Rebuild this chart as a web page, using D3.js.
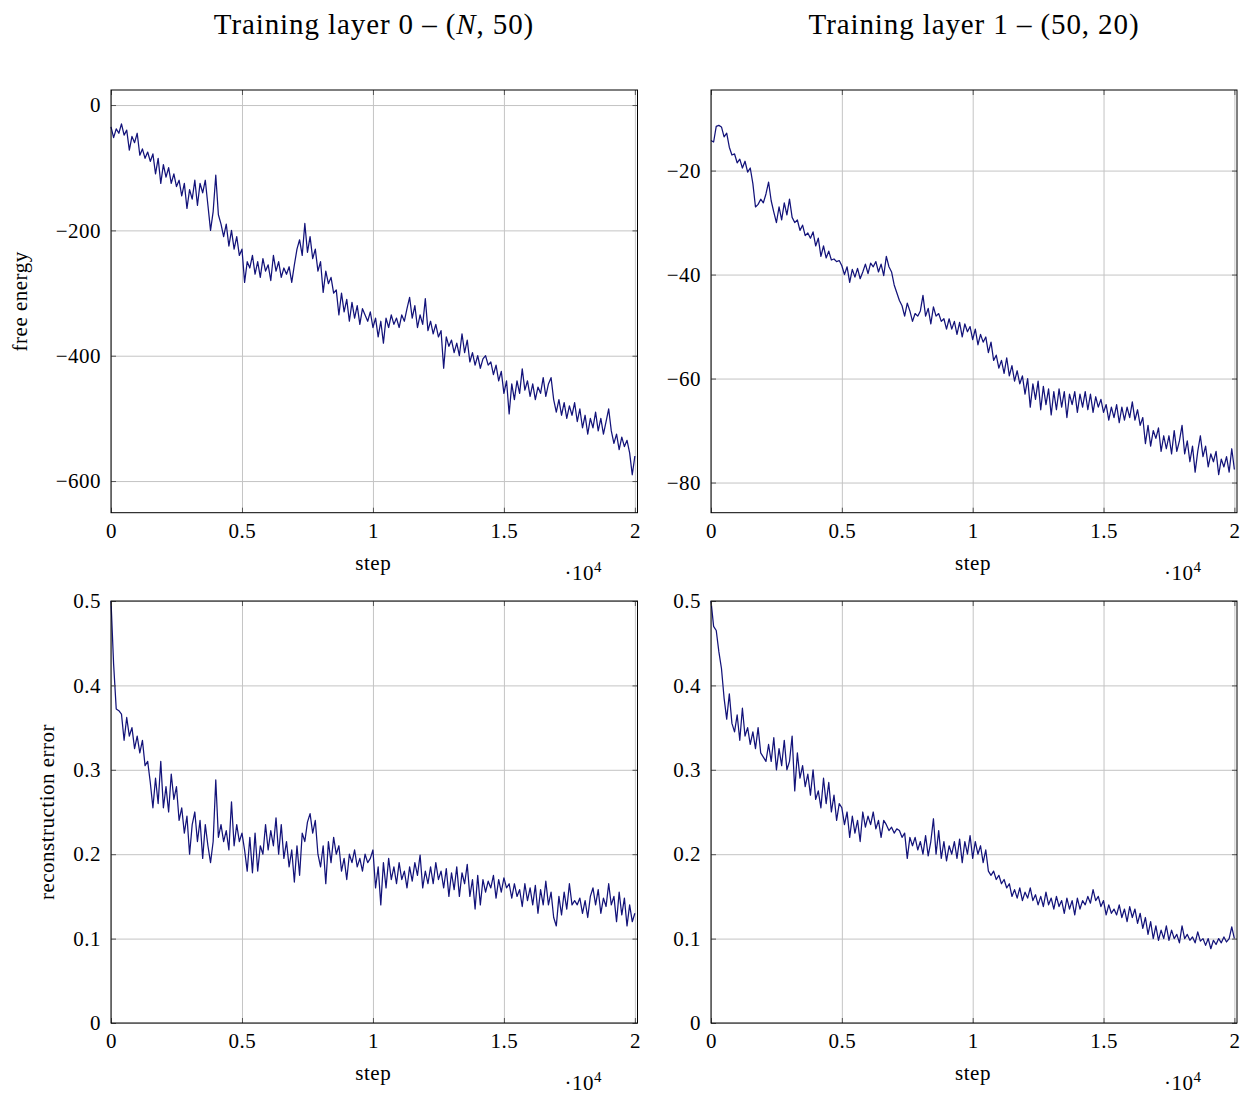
<!DOCTYPE html>
<html><head><meta charset="utf-8">
<script src="https://cdn.jsdelivr.net/npm/d3@7"></script>
<style>
body{margin:0;background:#fff}
svg{display:block}
text{font-family:"Liberation Serif","DejaVu Serif",serif;fill:#000}
</style>
</head><body>
<svg id="c" width="1245" height="1095"></svg>
<script>
// ---------------- data ----------------
const steps = d3.range(0, 20001, 100);

const freeEnergy0 = [
-35,-52,-38,-45,-30,-48,-40,-72,-50,-60,-45,-80,-70,-85,-75,-90,-78,-110,-85,-125,
-95,-115,-100,-125,-110,-130,-120,-145,-125,-165,-135,-150,-120,-160,-125,-140,-120,-160,-200,-170,
-112,-175,-190,-210,-190,-225,-200,-230,-210,-240,-230,-283,-250,-260,-240,-270,-250,-275,-245,-265,
-255,-280,-240,-265,-250,-275,-260,-270,-258,-283,-255,-230,-215,-240,-189,-235,-210,-245,-230,-265,
-250,-299,-265,-285,-275,-300,-295,-335,-300,-330,-310,-345,-315,-340,-320,-350,-325,-335,-345,-330,
-355,-340,-370,-345,-380,-340,-355,-335,-350,-340,-355,-335,-345,-325,-307,-340,-320,-355,-335,-350,
-309,-360,-345,-365,-350,-370,-360,-420,-370,-385,-375,-395,-380,-400,-365,-395,-375,-410,-395,-415,
-400,-420,-405,-400,-415,-410,-430,-415,-440,-425,-460,-440,-493,-445,-470,-440,-460,-421,-455,-440,
-465,-445,-470,-450,-460,-435,-465,-445,-435,-470,-490,-470,-495,-475,-500,-480,-495,-475,-505,-485,
-515,-495,-525,-500,-515,-490,-520,-500,-525,-505,-485,-520,-540,-525,-550,-530,-545,-535,-555,-590,
-560];

const freeEnergy1 = [
-14.2,-14.5,-11.5,-11.3,-11.6,-13.5,-12.8,-15.5,-17,-16.8,-18.5,-17.8,-19.5,-18.2,-20.3,-19.5,-22.5,-27,-26.5,-25.5,
-26.2,-24.5,-22.2,-25.8,-28,-30,-27,-29.5,-26.2,-28.5,-25.5,-29,-30,-29.5,-31.5,-30.5,-32.5,-32,-33,-31.8,
-34.5,-33,-36.5,-34.5,-36.8,-35.5,-37.2,-37,-37.5,-37.3,-38.3,-40,-38.5,-41.5,-39,-40.5,-38.8,-40.8,-39.5,-38,
-39.8,-37.8,-38.5,-37.5,-39.5,-38,-40.2,-36.5,-38.5,-39.5,-42,-43.5,-45,-46,-48,-45.5,-47,-49,-47.5,-48,
-47,-44,-48,-46.5,-49.5,-46.2,-48,-47.5,-49,-48.5,-50.5,-48.5,-50.5,-49,-51.5,-49.2,-52,-49.5,-51,-50,
-52.5,-50.5,-53.5,-51.5,-53,-52,-55,-53,-56.5,-55.5,-58,-56.5,-59,-56,-59.5,-57.5,-60.5,-58.5,-61,-59.5,
-63,-60,-65.5,-61,-64,-60.5,-66,-61.5,-65,-62,-67,-62.5,-66,-62,-65.5,-62.5,-67.5,-63,-65,-62.5,
-66.5,-63,-65.5,-62.5,-66,-63,-66.5,-63.5,-65.5,-64,-66.5,-65,-68,-65.5,-67.5,-65,-68.5,-65.5,-68,-65.5,
-67.5,-64.5,-68,-66,-69,-67.5,-72.5,-69,-73,-70,-71.5,-69.5,-74,-71,-73.5,-71,-74.5,-70,-74,-72,
-69,-74.5,-72,-76,-73,-78,-74,-71,-75,-73,-77,-74.5,-76,-74,-78.5,-75.5,-77,-75,-78,-73.5,
-77.5];

const reconError0 = [
0.5,0.425,0.372,0.37,0.366,0.335,0.362,0.34,0.35,0.325,0.34,0.32,0.335,0.305,0.31,0.285,0.255,0.29,0.26,0.31,
0.255,0.28,0.25,0.295,0.265,0.28,0.24,0.255,0.225,0.245,0.2,0.235,0.25,0.215,0.24,0.195,0.235,0.21,0.19,0.215,
0.288,0.22,0.235,0.215,0.228,0.205,0.262,0.21,0.235,0.215,0.225,0.205,0.18,0.22,0.178,0.225,0.18,0.21,0.2,0.235,
0.205,0.228,0.21,0.243,0.2,0.235,0.195,0.215,0.185,0.205,0.167,0.21,0.175,0.225,0.215,0.238,0.248,0.225,0.24,0.2,
0.185,0.21,0.165,0.215,0.19,0.22,0.2,0.21,0.18,0.195,0.17,0.2,0.19,0.205,0.185,0.195,0.18,0.2,0.19,0.195,
0.205,0.16,0.185,0.14,0.19,0.16,0.195,0.17,0.185,0.165,0.19,0.17,0.18,0.16,0.185,0.168,0.19,0.175,0.199,0.16,
0.18,0.165,0.185,0.165,0.19,0.17,0.18,0.16,0.183,0.15,0.178,0.158,0.185,0.15,0.178,0.165,0.188,0.15,0.17,0.135,
0.175,0.14,0.17,0.155,0.168,0.16,0.175,0.148,0.17,0.155,0.172,0.16,0.165,0.148,0.165,0.15,0.158,0.138,0.165,0.145,
0.16,0.14,0.163,0.13,0.158,0.14,0.168,0.14,0.155,0.125,0.115,0.15,0.128,0.155,0.135,0.165,0.14,0.145,0.14,0.148,
0.13,0.145,0.125,0.15,0.16,0.14,0.158,0.13,0.148,0.138,0.165,0.14,0.15,0.12,0.155,0.128,0.148,0.115,0.14,0.12,
0.13];

const reconError1 = [
0.5,0.47,0.465,0.44,0.42,0.385,0.36,0.39,0.355,0.345,0.365,0.335,0.373,0.34,0.35,0.33,0.345,0.325,0.35,0.32,
0.315,0.31,0.33,0.31,0.338,0.3,0.325,0.305,0.335,0.3,0.31,0.34,0.275,0.32,0.29,0.305,0.28,0.295,0.27,0.3,
0.265,0.275,0.255,0.29,0.26,0.285,0.25,0.27,0.24,0.26,0.255,0.235,0.25,0.22,0.245,0.225,0.24,0.215,0.25,0.232,
0.245,0.235,0.25,0.23,0.24,0.22,0.24,0.235,0.228,0.232,0.225,0.23,0.228,0.22,0.225,0.195,0.22,0.21,0.22,0.205,
0.215,0.2,0.222,0.198,0.215,0.242,0.2,0.228,0.195,0.215,0.192,0.21,0.2,0.215,0.195,0.218,0.19,0.215,0.2,0.222,
0.195,0.215,0.2,0.21,0.19,0.205,0.18,0.175,0.18,0.17,0.175,0.165,0.17,0.16,0.165,0.15,0.158,0.148,0.16,0.145,
0.155,0.148,0.16,0.145,0.152,0.14,0.15,0.138,0.155,0.14,0.148,0.135,0.15,0.138,0.145,0.13,0.148,0.135,0.145,0.128,
0.148,0.135,0.145,0.14,0.15,0.142,0.158,0.145,0.15,0.138,0.145,0.128,0.14,0.13,0.135,0.128,0.14,0.125,0.135,0.12,
0.138,0.125,0.135,0.118,0.13,0.112,0.125,0.105,0.12,0.1,0.115,0.098,0.11,0.1,0.115,0.098,0.11,0.1,0.105,0.095,
0.115,0.1,0.105,0.098,0.102,0.095,0.108,0.097,0.1,0.092,0.1,0.088,0.098,0.093,0.1,0.095,0.102,0.096,0.1,0.114,
0.1];

const xTicks = [0, 5000, 10000, 15000, 20000];
const xTickLabels = ["0", "0.5", "1", "1.5", "2"];
const feTicks0 = [0, -200, -400, -600];
const feTicks1 = [-20, -40, -60, -80];
const reTicks = [0, 0.1, 0.2, 0.3, 0.4, 0.5];
const reTickLabels = ["0", "0.1", "0.2", "0.3", "0.4", "0.5"];

// ---------------- drawing ----------------
const svg = d3.select("#c");
const FONT = 21;
const LS = "0.5px";
const LINE_COLOR = "#13137a";
const GRID_COLOR = "#c4c4c4";

const panels = [
  {x0:111, x1:637.5, y0:90, y1:512.7, dom:[-650.5, 24], ticks:feTicks0, labels:null, data:freeEnergy0, ylabel:"free energy", ylabelX:20},
  {x0:711, x1:1237, y0:90, y1:512.7, dom:[-85.8, -4.5], ticks:feTicks1, labels:null, data:freeEnergy1, ylabel:null},
  {x0:111, x1:637.5, y0:601, y1:1023, dom:[0, 0.5], ticks:reTicks, labels:reTickLabels, data:reconError0, ylabel:"reconstruction error", ylabelX:47},
  {x0:711, x1:1237, y0:601, y1:1023, dom:[0, 0.5], ticks:reTicks, labels:reTickLabels, data:reconError1, ylabel:null}
];

panels.forEach(p => {
  const x = d3.scaleLinear().domain([0, 20100]).range([p.x0, p.x1]);
  const y = d3.scaleLinear().domain(p.dom).range([p.y1, p.y0]);
  const W = p.x1 - p.x0, H = p.y1 - p.y0;
  const g = svg.append("g");

  // grid
  g.append("g").attr("transform", `translate(0,${p.y1})`)
    .call(d3.axisBottom(x).tickValues(xTicks).tickSize(-H).tickFormat(""))
    .call(a => a.select(".domain").remove())
    .call(a => a.selectAll("line").attr("stroke", GRID_COLOR).attr("stroke-width", 1));
  g.append("g").attr("transform", `translate(${p.x0},0)`)
    .call(d3.axisLeft(y).tickValues(p.ticks).tickSize(-W).tickFormat(""))
    .call(a => a.select(".domain").remove())
    .call(a => a.selectAll("line").attr("stroke", GRID_COLOR).attr("stroke-width", 1));

  // data line
  g.append("path")
    .datum(p.data.map((v, i) => [steps[i], v]))
    .attr("fill", "none")
    .attr("stroke", LINE_COLOR)
    .attr("stroke-width", 1.25)
    .attr("stroke-linejoin", "round")
    .attr("d", d3.line().x(d => x(d[0])).y(d => y(d[1])));

  // axes with inward ticks
  const styleAxis = a => {
    a.select(".domain").remove();
    a.selectAll("line").attr("stroke", "#555").attr("stroke-width", 1);
    a.selectAll("text").attr("font-size", FONT).attr("letter-spacing", LS)
      .attr("font-family", '"Liberation Serif","DejaVu Serif",serif').attr("fill", "#000");
  };
  g.append("g").attr("transform", `translate(0,${p.y1})`)
    .call(d3.axisBottom(x).tickValues(xTicks).tickSize(-5).tickPadding(10)
      .tickFormat((d, i) => xTickLabels[i]))
    .call(styleAxis);
  g.append("g").attr("transform", `translate(0,${p.y0})`)
    .call(d3.axisTop(x).tickValues(xTicks).tickSize(-5).tickFormat(""))
    .call(styleAxis);
  g.append("g").attr("transform", `translate(${p.x0},0)`)
    .call(d3.axisLeft(y).tickValues(p.ticks).tickSize(-5).tickPadding(10)
      .tickFormat((d, i) => p.labels ? p.labels[i] : d3.format("")(d).replace("-", "\u2212")))
    .call(styleAxis);
  g.append("g").attr("transform", `translate(${p.x1},0)`)
    .call(d3.axisRight(y).tickValues(p.ticks).tickSize(-5).tickFormat(""))
    .call(styleAxis);

  // frame
  g.append("rect").attr("x", p.x0).attr("y", p.y0).attr("width", W).attr("height", H)
    .attr("fill", "none").attr("stroke", "#000").attr("stroke-width", 1);

  // x label
  g.append("text").attr("x", (p.x0 + p.x1) / 2 - 1).attr("y", p.y1 + 57)
    .attr("text-anchor", "middle").attr("font-size", FONT).attr("letter-spacing", LS).text("step");
  // scale factor
  const sf = g.append("text").attr("x", p.x1 - 73).attr("y", p.y1 + 67)
    .attr("font-size", FONT).attr("letter-spacing", LS);
  sf.append("tspan").text("\u00b710");
  sf.append("tspan").attr("dy", -8).attr("font-size", 15).text("4");

  if (p.ylabel) {
    g.append("text")
      .attr("transform", `translate(${p.ylabelX},${(p.y0 + p.y1) / 2}) rotate(-90)`)
      .attr("text-anchor", "middle").attr("dominant-baseline", "central")
      .attr("font-size", FONT).attr("letter-spacing", LS).text(p.ylabel);
  }
});

// titles
const t1 = svg.append("text").attr("x", 374).attr("y", 34).attr("text-anchor", "middle")
  .attr("font-size", 29).attr("letter-spacing", "0.9px");
t1.append("tspan").text("Training layer 0 \u2013 (");
t1.append("tspan").attr("font-style", "italic").text("N");
t1.append("tspan").text(", 50)");
const t2 = svg.append("text").attr("x", 974).attr("y", 34).attr("text-anchor", "middle")
  .attr("font-size", 29).attr("letter-spacing", "0.9px");
t2.append("tspan").text("Training layer 1 \u2013 (50, 20)");
</script>
</body></html>
